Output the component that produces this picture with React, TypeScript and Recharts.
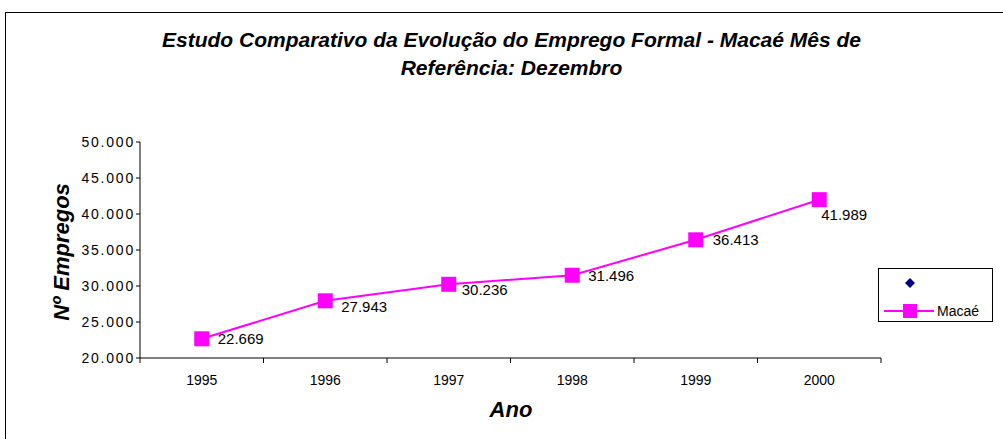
import React from "react";
import { LineChart, Line, XAxis, YAxis, LabelList } from "recharts";

// data
const years = ["1995", "1996", "1997", "1998", "1999", "2000"];
const macae = [22669, 27943, 30236, 31496, 36413, 41989];
const yTicks = [20000, 25000, 30000, 35000, 40000, 45000, 50000];

// nudges for the value labels, the way Excel placed them
const labelDx = [16, 16, 13, 16, 17, 2];
const labelDy = [0, 6, 5, 0, 0, 15];

const data = years.map((ano, i) => ({ ano, macae: macae[i] }));

const FONT = "'Liberation Sans', Arial, sans-serif";
const MAGENTA = "#FF00FF";
const NAVY = "#000080";

// plot box (px)
const PLOT_LEFT = 140;
const PLOT_RIGHT = 881;
const PLOT_TOP = 142;
const PLOT_BOTTOM = 358;
const BAND = (PLOT_RIGHT - PLOT_LEFT) / years.length;

const fmt = (v: number) => String(v).replace(/\B(?=(\d{3})+(?!\d))/g, ".");

const YearTick = (props: any) => {
  const { x, payload, index } = props;
  return (
    <g>
      <line x1={x - BAND / 2} x2={x - BAND / 2} y1={PLOT_BOTTOM} y2={PLOT_BOTTOM + 5} stroke="#000" />
      {index === years.length - 1 && (
        <line x1={x + BAND / 2} x2={x + BAND / 2} y1={PLOT_BOTTOM} y2={PLOT_BOTTOM + 5} stroke="#000" />
      )}
      <text x={x} y={PLOT_BOTTOM + 27} textAnchor="middle" fontSize={14} fontFamily={FONT} fill="#000">
        {payload.value}
      </text>
    </g>
  );
};

const SquareDot = (props: any) => {
  const { cx, cy } = props;
  if (cx == null || cy == null) return null;
  return <rect x={cx - 7.5} y={cy - 7.5} width={15} height={15} fill={MAGENTA} />;
};

const ValueLabel = (props: any) => {
  const { x, y, value, index } = props;
  return (
    <text
      x={x + (labelDx[index] ?? 16)}
      y={y + 5.5 + (labelDy[index] ?? 0)}
      fontSize={15}
      fontFamily={FONT}
      fill="#000"
    >
      {fmt(value)}
    </text>
  );
};

const axisTitle: React.CSSProperties = {
  position: "absolute",
  fontSize: 22,
  fontWeight: "bold",
  fontStyle: "italic",
  whiteSpace: "nowrap",
  color: "#000",
};

export default function App() {
  return (
    <div
      style={{
        position: "absolute",
        left: 0,
        top: 0,
        width: 1003,
        height: 439,
        overflow: "hidden",
        background: "#fff",
        fontFamily: FONT,
      }}
    >
      {/* outer chart-area frame */}
      <div
        style={{
          position: "absolute",
          left: 5,
          top: 12,
          width: 1010,
          height: 460,
          border: "1px solid #000",
          boxSizing: "border-box",
        }}
      />

      <div
        style={{
          position: "absolute",
          left: 0,
          width: 1003,
          top: 26,
          textAlign: "center",
          fontSize: 21,
          fontWeight: "bold",
          fontStyle: "italic",
          lineHeight: "28px",
          color: "#000",
          paddingLeft: 20,
          boxSizing: "border-box",
        }}
      >
        Estudo Comparativo da Evolução do Emprego Formal - Macaé Mês de
        <br />
        Referência: Dezembro
      </div>

      <div style={{ ...axisTitle, left: 62, top: 252, transform: "translate(-50%, -50%) rotate(-90deg)" }}>
        Nº Empregos
      </div>

      <div style={{ ...axisTitle, left: 511, top: 410, transform: "translate(-50%, -50%)" }}>Ano</div>

      <div style={{ position: "absolute", left: 0, top: 0 }}>
        <LineChart
          width={1003}
          height={439}
          data={data}
          margin={{ top: PLOT_TOP, right: 1003 - PLOT_RIGHT, bottom: 439 - PLOT_BOTTOM - 30, left: PLOT_LEFT - 70 }}
        >
          <XAxis
            dataKey="ano"
            scale="band"
            height={30}
            axisLine={{ stroke: "#000" }}
            tickLine={false}
            tick={<YearTick />}
            interval={0}
          />
          <YAxis
            width={70}
            domain={[20000, 50000]}
            ticks={yTicks}
            interval={0}
            tickFormatter={fmt}
            axisLine={{ stroke: "#000" }}
            tickLine={{ stroke: "#000" }}
            tickSize={4}
            tickMargin={1}
            tick={{ fontSize: 14, fill: "#000", fontFamily: FONT, letterSpacing: 1.8 }}
          />
          <Line
            dataKey="macae"
            stroke={MAGENTA}
            strokeWidth={2}
            dot={<SquareDot />}
            activeDot={false}
            isAnimationActive={false}
          >
            <LabelList dataKey="macae" content={<ValueLabel />} />
          </Line>
        </LineChart>
      </div>

      {/* legend */}
      <div
        style={{
          position: "absolute",
          left: 878,
          top: 268,
          width: 115,
          height: 54,
          border: "1px solid #000",
          boxSizing: "border-box",
          background: "#fff",
        }}
      >
        <svg width={113} height={52} style={{ position: "absolute", left: 0, top: 0 }}>
          <polygon points="31,9 36,14 31,19 26,14" fill={NAVY} />
          <line x1={5} x2={55} y1={42} y2={42} stroke={MAGENTA} strokeWidth={2} />
          <rect x={24} y={35} width={14} height={14} fill={MAGENTA} />
          <text x={58} y={47} fontSize={14} fontFamily={FONT} fill="#000">
            Macaé
          </text>
        </svg>
      </div>
    </div>
  );
}
